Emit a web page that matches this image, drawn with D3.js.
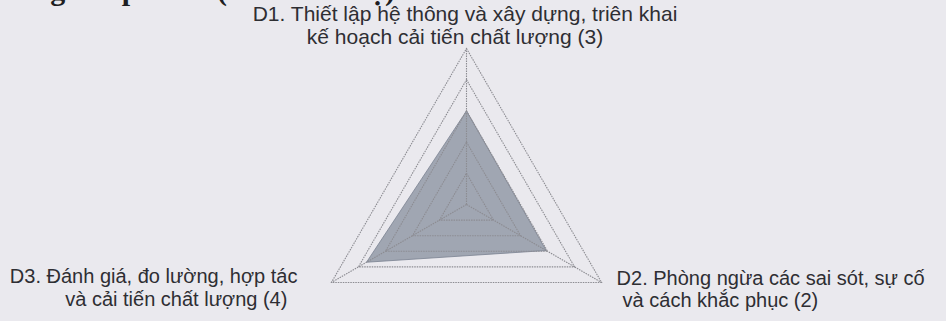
<!DOCTYPE html>
<html>
<head>
<meta charset="utf-8">
<script src="https://cdn.jsdelivr.net/npm/d3@7"></script>
<style>
  html, body { margin: 0; padding: 0; background: #eae9ee; }
  svg { display: block; }
</style>
</head>
<body>
<div id="vis"></div>
<script>
// axes of the radar, clockwise from the top
const axes = ["D1", "D2", "D3"];
const axisLabels = [
  ["D1. Thiết lập hệ thông và xây dựng, triên khai", "kế hoạch cải tiến chất lượng (3)"],
  ["D2. Phòng ngừa các sai sót, sự cố", "và cách khắc phục (2)"],
  ["D3. Đánh giá, đo lường, hợp tác", "và cải tiến chất lượng (4)"]
];
const scores = [3.0, 2.95, 3.7];
const gridLevels = [1, 2, 3, 4, 5];
const headingText = "Trong các phần 2 (theo mức độ)";

const width = 946;
const height = 321;
const cx = 466.5;
const cy = 204.5;

const svg = d3.select("#vis").append("svg")
  .attr("width", width)
  .attr("height", height);

// heading of the page above, cut by the top edge of the scan
svg.append("text")
  .attr("x", -12)
  .attr("y", 0)
  .attr("font-family", "Liberation Serif, serif")
  .attr("font-weight", "bold")
  .attr("font-size", 30)
  .attr("fill", "#1e1e22")
  .text(headingText);

const r = d3.scaleLinear().domain([0, 5]).range([0, 156]);
const angle = d3.scalePoint().domain(axes.concat(["_end"])).range([0, 2 * Math.PI]);

const g = svg.append("g").attr("transform", `translate(${cx},${cy})`);

const radial = d3.lineRadial()
  .angle((d, i) => angle(axes[i]))
  .radius(d => r(d))
  .curve(d3.curveLinearClosed);

// filled series
g.append("path")
  .datum(scores)
  .attr("d", radial)
  .attr("fill", "#848c9b")
  .attr("fill-opacity", 0.72)
  .attr("stroke", "#7a8290")
  .attr("stroke-width", 0.8);

// grid rings
g.selectAll(".ring")
  .data(gridLevels)
  .join("path")
  .attr("class", "ring")
  .attr("d", lv => radial(axes.map(() => lv)))
  .attr("fill", "none")
  .attr("stroke", "#8c8c92")
  .attr("stroke-width", 1.1)
  .attr("stroke-dasharray", "1.5,1");

// spokes
const pt = (a, v) => {
  const t = angle(a) - Math.PI / 2;
  return [r(v) * Math.cos(t), r(v) * Math.sin(t)];
};
g.selectAll(".spoke")
  .data(axes)
  .join("line")
  .attr("class", "spoke")
  .attr("x1", 0).attr("y1", 0)
  .attr("x2", a => pt(a, 5)[0])
  .attr("y2", a => pt(a, 5)[1])
  .attr("stroke", "#8c8c92")
  .attr("stroke-width", 1.1)
  .attr("stroke-dasharray", "1.5,1");

// axis labels
const labelPlace = {
  D1: { anchor: "middle", size: 21, dx: [-1.5, -11.5], dy: [-28, -5] },
  D2: { anchor: "start", size: 20, dx: [15, 21], dy: [2.5, 24.5] },
  D3: { anchor: "end", size: 20, dx: [-34, -44], dy: [0.5, 23.5] }
};
axes.forEach((a, i) => {
  const [x, y] = pt(a, 5);
  const p = labelPlace[a];
  const t = g.append("text")
    .attr("font-family", "Liberation Sans, Arial, sans-serif")
    .attr("font-size", p.size)
    .attr("fill", "#2e2e33")
    .attr("text-anchor", p.anchor);
  axisLabels[i].forEach((line, j) => {
    t.append("tspan")
      .attr("x", x + p.dx[j])
      .attr("y", y + p.dy[j])
      .text(line);
  });
});
</script>
</body>
</html>
